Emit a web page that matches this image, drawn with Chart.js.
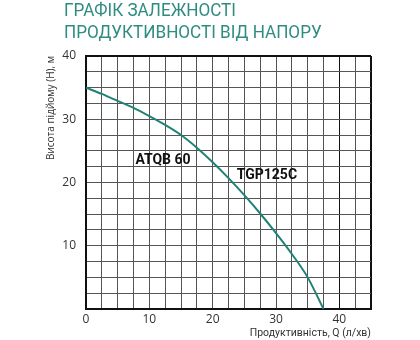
<!DOCTYPE html>
<html>
<head>
<meta charset="utf-8">
<script src="https://cdn.jsdelivr.net/npm/chart.js@4"></script>
<style>
    body { margin: 0; background: #fff; }
    #wrap { position: relative; width: 420px; height: 340px; }
    #title {
        position: absolute; left: 64px; top: -1px;
        font-family: Roboto, sans-serif; font-size: 19px; line-height: 22px;
        color: #2f8c82; white-space: nowrap;
        transform: scaleX(0.9); transform-origin: left top;
    }
</style>
</head>
<body>
<div id="wrap">
    <canvas id="chart" width="420" height="340"></canvas>
    <div id="title">ГРАФІК ЗАЛЕЖНОСТІ<br>ПРОДУКТИВНОСТІ ВІД НАПОРУ</div>
</div>
<script>
// Дані кривої (Q, л/хв -> H, м)
const flowQ = [0, 2.5, 5, 7.5, 10, 12.5, 15, 17.5, 20, 22.5, 25, 27.5, 30, 32.5, 35, 37.5];
const headH = [35, 34.0, 32.9, 31.8, 30.5, 29.1, 27.5, 25.5, 23.2, 20.7, 18.0, 15.1, 12.0, 8.7, 5.0, 0];

// Підписи моделей (у координатах графіка)
const modelNames = ['ATQB 60', 'TGP125C'];
const modelQ = [7.8, 23.8];
const modelH = [23.0, 20.6];

const xTickLabels = [0, 10, 20, 30, 40];
const yTickLabels = [10, 20, 30, 40];

const modelLabels = {
    id: 'modelLabels',
    afterDatasetsDraw(chart) {
        const ctx = chart.ctx;
        const xs = chart.scales.x;
        const ys = chart.scales.y;
        ctx.save();
        ctx.font = 'bold 14px Roboto';
        ctx.fillStyle = '#111';
        ctx.textBaseline = 'alphabetic';
        modelNames.forEach((name, i) => {
            ctx.fillText(name, xs.getPixelForValue(modelQ[i]), ys.getPixelForValue(modelH[i]));
        });
        ctx.restore();
    }
};

const frameColor = v => (v === 0 || v === 40 || v === 45) ? '#111' : '#555';

new Chart(document.getElementById('chart').getContext('2d'), {
    type: 'line',
    data: {
        datasets: [{
            data: flowQ.map((q, i) => ({ x: q, y: headH[i] })),
            borderColor: '#1f8276',
            borderWidth: 2,
            pointRadius: 0,
            cubicInterpolationMode: 'monotone',
            fill: false
        }]
    },
    options: {
        responsive: false,
        animation: false,
        layout: { padding: { left: 45, right: 49, top: 56, bottom: 0 } },
        plugins: {
            legend: { display: false },
            tooltip: { enabled: false }
        },
        scales: {
            x: {
                type: 'linear',
                min: 0,
                max: 45,
                afterFit: s => { s.height = 31; },
                ticks: {
                    stepSize: 2.5,
                    autoSkip: false,
                    maxRotation: 0,
                    padding: 3,
                    color: '#333',
                    font: { family: 'Open Sans', size: 12 },
                    callback: v => xTickLabels.includes(v) ? String(v) : ''
                },
                grid: {
                    color: ctx => frameColor(ctx.tick.value),
                    lineWidth: ctx => (ctx.tick.value === 45 ? 2 : 1),
                    drawTicks: false
                },
                border: { color: '#111', width: 2 },
                title: {
                    display: true,
                    text: 'Продуктивність, Q (л/хв)',
                    align: 'end',
                    color: '#333',
                    font: { family: 'Roboto', size: 10.5 },
                    padding: { top: 0, bottom: 0 }
                }
            },
            y: {
                min: 0,
                max: 40,
                afterFit: s => { s.width = 41; },
                ticks: {
                    stepSize: 2.5,
                    autoSkip: false,
                    padding: 10,
                    color: '#333',
                    font: { family: 'Open Sans', size: 12 },
                    callback: v => yTickLabels.includes(v) ? String(v) : ''
                },
                grid: {
                    color: ctx => frameColor(ctx.tick.value),
                    lineWidth: ctx => (ctx.tick.value === 40 ? 2 : 1),
                    drawTicks: false
                },
                border: { color: '#111', width: 2 },
                title: {
                    display: true,
                    text: 'Висота підйому (H), м',
                    align: 'end',
                    color: '#333',
                    font: { family: 'Open Sans', size: 10 },
                    padding: { top: 0, bottom: 0 }
                }
            }
        }
    },
    plugins: [modelLabels]
});
</script>
</body>
</html>
